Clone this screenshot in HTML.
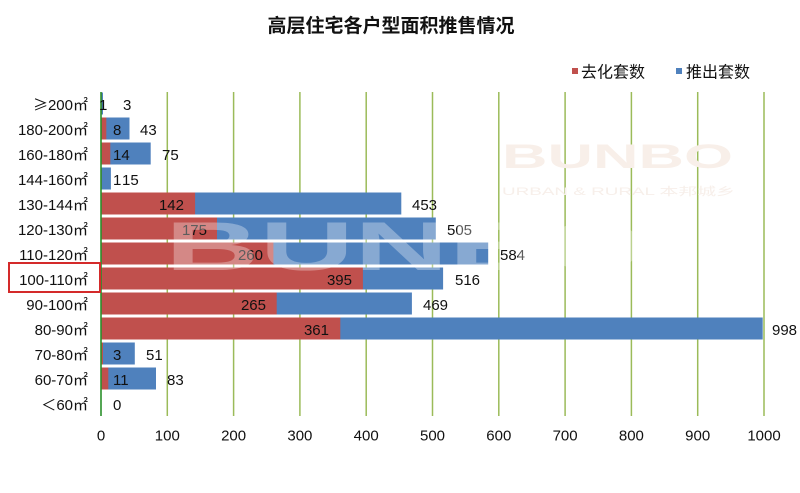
<!DOCTYPE html>
<html>
<head>
<meta charset="utf-8">
<style>
html,body{margin:0;padding:0;background:#fff;}
svg{display:block;}
text{font-family:"Liberation Sans","Noto Sans CJK SC",sans-serif;}
.v{font-size:15px;fill:#111;}
.c{font-size:15px;fill:#111;text-anchor:end;}
.t{font-size:15px;fill:#111;text-anchor:middle;}
</style>
</head>
<body>
<svg width="800" height="493" viewBox="0 0 800 493" xmlns="http://www.w3.org/2000/svg">
<rect x="0" y="0" width="800" height="493" fill="#fff"/>

<!-- title -->
<text x="391" y="32" text-anchor="middle" style="font-family:'Noto Sans CJK SC',sans-serif;font-size:19px;font-weight:bold;fill:#111;">高层住宅各户型面积推售情况</text>

<!-- legend -->
<rect x="572" y="68" width="6" height="6" fill="#c0504d"/>
<text x="581" y="77.5" style="font-family:'Noto Sans CJK SC',sans-serif;font-size:16px;fill:#111;">去化套数</text>
<rect x="676" y="68" width="6" height="6" fill="#4f81bd"/>
<text x="686" y="77.5" style="font-family:'Noto Sans CJK SC',sans-serif;font-size:16px;fill:#111;">推出套数</text>

<!-- gridlines -->
<g stroke="#9bbb59" stroke-width="1.5">
<line x1="167.3" y1="92" x2="167.3" y2="416"/>
<line x1="233.6" y1="92" x2="233.6" y2="416"/>
<line x1="299.9" y1="92" x2="299.9" y2="416"/>
<line x1="366.2" y1="92" x2="366.2" y2="416"/>
<line x1="432.5" y1="92" x2="432.5" y2="416"/>
<line x1="498.8" y1="92" x2="498.8" y2="416"/>
<line x1="565.1" y1="92" x2="565.1" y2="416"/>
<line x1="631.4" y1="92" x2="631.4" y2="416"/>
<line x1="697.7" y1="92" x2="697.7" y2="416"/>
<line x1="764" y1="92" x2="764" y2="416"/>
</g>

<!-- blue bars (推出) -->
<g fill="#4f81bd">
<rect x="101" y="92.5" width="2" height="22"/>
<rect x="101" y="117.5" width="28.5" height="22"/>
<rect x="101" y="142.5" width="49.7" height="22"/>
<rect x="101" y="167.5" width="9.9" height="22"/>
<rect x="101" y="192.5" width="300.3" height="22"/>
<rect x="101" y="217.5" width="334.8" height="22"/>
<rect x="101" y="242.5" width="387.2" height="22"/>
<rect x="101" y="267.5" width="342.1" height="22"/>
<rect x="101" y="292.5" width="310.9" height="22"/>
<rect x="101" y="317.5" width="661.7" height="22"/>
<rect x="101" y="342.5" width="33.8" height="22"/>
<rect x="101" y="367.5" width="55" height="22"/>
</g>
<!-- red bars (去化) -->
<g fill="#c0504d">
<rect x="101" y="92.5" width="0.7" height="22"/>
<rect x="101" y="117.5" width="5.3" height="22"/>
<rect x="101" y="142.5" width="9.3" height="22"/>
<rect x="101" y="167.5" width="0.7" height="22"/>
<rect x="101" y="192.5" width="94.1" height="22"/>
<rect x="101" y="217.5" width="116" height="22"/>
<rect x="101" y="242.5" width="172.4" height="22"/>
<rect x="101" y="267.5" width="261.9" height="22"/>
<rect x="101" y="292.5" width="175.7" height="22"/>
<rect x="101" y="317.5" width="239.3" height="22"/>
<rect x="101" y="342.5" width="2" height="22"/>
<rect x="101" y="367.5" width="7.3" height="22"/>
</g>

<!-- axis line -->
<line x1="101" y1="92" x2="101" y2="416" stroke="#2a8f2a" stroke-width="1.6"/>

<!-- category labels -->
<text class="c" x="88" y="110"><tspan style="font-family:'Noto Sans CJK SC',sans-serif;">≥</tspan>200㎡</text>
<text class="c" x="88" y="135">180-200㎡</text>
<text class="c" x="88" y="160">160-180㎡</text>
<text class="c" x="88" y="185">144-160㎡</text>
<text class="c" x="88" y="210">130-144㎡</text>
<text class="c" x="88" y="235">120-130㎡</text>
<text class="c" x="88" y="260">110-120㎡</text>
<text class="c" x="88" y="285">100-110㎡</text>
<text class="c" x="88" y="310">90-100㎡</text>
<text class="c" x="88" y="335">80-90㎡</text>
<text class="c" x="88" y="360">70-80㎡</text>
<text class="c" x="88" y="385">60-70㎡</text>
<text class="c" x="88" y="410"><tspan style="font-family:'Noto Sans CJK SC',sans-serif;">＜</tspan>60㎡</text>

<!-- highlight box -->
<rect x="9" y="263" width="91" height="29" fill="none" stroke="#d42a2a" stroke-width="2"/>

<!-- value labels -->
<text class="v" x="99" y="110">1</text>
<text class="v" x="123" y="110">3</text>
<text class="v" x="113" y="135">8</text>
<text class="v" x="140" y="135">43</text>
<text class="v" x="113" y="160">14</text>
<text class="v" x="162" y="160">75</text>
<text class="v" x="113" y="185">1</text>
<text class="v" x="122" y="185">15</text>
<text class="v" x="184" y="210" text-anchor="end">142</text>
<text class="v" x="412" y="210">453</text>
<text class="v" x="207" y="235" text-anchor="end">175</text>
<text class="v" x="447" y="235">505</text>
<text class="v" x="263" y="260" text-anchor="end">260</text>
<text class="v" x="500" y="260">584</text>
<text class="v" x="352" y="285" text-anchor="end">395</text>
<text class="v" x="455" y="285">516</text>
<text class="v" x="266" y="310" text-anchor="end">265</text>
<text class="v" x="423" y="310">469</text>
<text class="v" x="329" y="335" text-anchor="end">361</text>
<text class="v" x="772" y="335">998</text>
<text class="v" x="113" y="360">3</text>
<text class="v" x="146" y="360">51</text>
<text class="v" x="113" y="385">11</text>
<text class="v" x="167" y="385">83</text>
<text class="v" x="113" y="410">0</text>

<!-- x tick labels -->
<text class="t" x="101" y="440.5">0</text>
<text class="t" x="167.3" y="440.5">100</text>
<text class="t" x="233.6" y="440.5">200</text>
<text class="t" x="299.9" y="440.5">300</text>
<text class="t" x="366.2" y="440.5">400</text>
<text class="t" x="432.5" y="440.5">500</text>
<text class="t" x="498.8" y="440.5">600</text>
<text class="t" x="565.1" y="440.5">700</text>
<text class="t" x="631.4" y="440.5">800</text>
<text class="t" x="697.7" y="440.5">900</text>
<text class="t" x="764" y="440.5">1000</text>

<!-- watermarks -->
<text x="502" y="168" textLength="231" lengthAdjust="spacingAndGlyphs" style="font-size:34px;font-weight:bold;fill:#f8efe9;">BUNBO</text>
<text x="502" y="195" textLength="233" lengthAdjust="spacingAndGlyphs" style="font-size:11px;fill:#f7efea;">URBAN &amp; RURAL 本邦城乡</text>
<text x="165" y="270" textLength="480" lengthAdjust="spacingAndGlyphs" style="font-size:69px;font-weight:bold;fill:#fff;fill-opacity:0.32;">BUNBO</text>
</svg>
</body>
</html>
